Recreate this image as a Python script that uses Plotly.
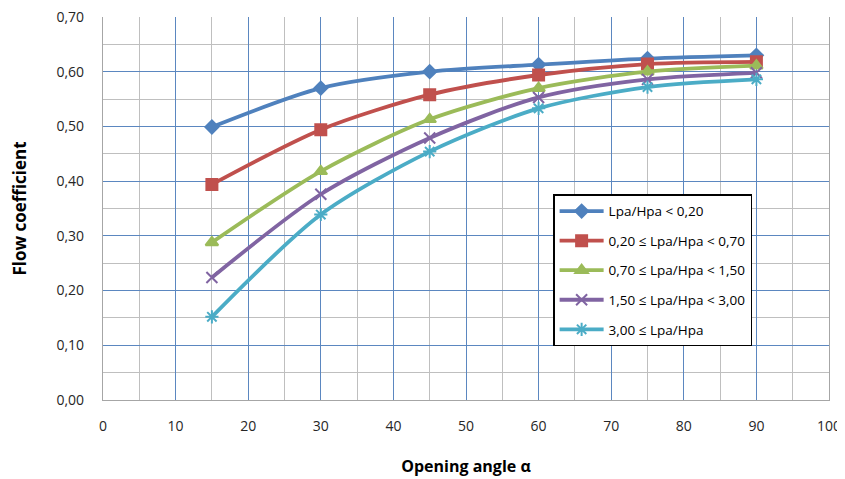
import plotly.graph_objects as go

angles = [15, 30, 45, 60, 75, 90]
series_names = [
    "Lpa/Hpa < 0,20",
    "0,20 ≤ Lpa/Hpa < 0,70",
    "0,70 ≤ Lpa/Hpa < 1,50",
    "1,50 ≤ Lpa/Hpa < 3,00",
    "3,00 ≤ Lpa/Hpa",
]
s1 = [0.499, 0.570, 0.600, 0.613, 0.624, 0.630]
s2 = [0.394, 0.494, 0.558, 0.594, 0.614, 0.618]
s3 = [0.288, 0.418, 0.513, 0.570, 0.600, 0.611]
s4 = [0.224, 0.376, 0.479, 0.553, 0.586, 0.598]
s5 = [0.152, 0.339, 0.454, 0.533, 0.572, 0.586]
series_values = [s1, s2, s3, s4, s5]

colors = ["#4F81BD", "#C0504D", "#9BBB59", "#8064A2", "#4BACC6"]
symbols = ["diamond", "square", "triangle-up", "x-thin-open", "asterisk-open"]
sizes = [10, 11, 11, 11, 11]

fig = go.Figure()
for i, (name, vals) in enumerate(zip(series_names, series_values)):
    fig.add_trace(go.Scatter(
        x=angles, y=vals, name=name, mode="lines+markers",
        line=dict(color=colors[i], width=3.8, shape="spline", smoothing=0.8),
        marker=dict(symbol=symbols[i], size=sizes[i], color=colors[i],
                    line=dict(color=colors[i], width=2)),
        legendgroup=f"g{i}",
    ))

# page body has an 8px margin; figure is sized/offset to compensate
fig.update_layout(
    width=837, height=471,
    margin=dict(l=95, r=16, t=9, b=79, autoexpand=False),
    paper_bgcolor="white", plot_bgcolor="white",
    separators=", ",
    font=dict(family="Open Sans, Liberation Sans, sans-serif", size=14, color="#262626"),
    showlegend=True,
    legend=dict(
        x=0.62, y=0.537, xanchor="left", yanchor="top",
        bgcolor="white", bordercolor="black", borderwidth=1.5,
        font=dict(size=13.5, color="black"),
        tracegroupgap=9, itemwidth=44,
    ),
)
fig.update_xaxes(
    range=[0, 100], dtick=10, tick0=0, automargin=False,
    showgrid=True, gridcolor="#5B87C0", gridwidth=1.3,
    minor=dict(dtick=5, showgrid=True, gridcolor="#BFBFBF", gridwidth=1.3),
    showline=True, linecolor="#A6A6A6", linewidth=1.3, mirror=False,
    zeroline=False, ticks="", ticklabelstandoff=13, ticklabeloverflow="allow",
    title=dict(text="<b>Opening angle α</b>", font=dict(size=16, color="black"), standoff=26),
)
fig.update_yaxes(
    range=[0, 0.70], dtick=0.1, tick0=0, tickformat=".2f", automargin=False,
    showgrid=True, gridcolor="#5B87C0", gridwidth=1.3,
    minor=dict(dtick=0.05, showgrid=True, gridcolor="#BFBFBF", gridwidth=1.3),
    showline=True, linecolor="#A6A6A6", linewidth=1.3, mirror=True,
    zeroline=False, ticks="", ticklabelstandoff=15, ticklabeloverflow="allow",
    title=dict(text="<b>Flow coefficient</b>", font=dict(size=17, color="black"), standoff=27),
)

fig.write_html("out.html")
